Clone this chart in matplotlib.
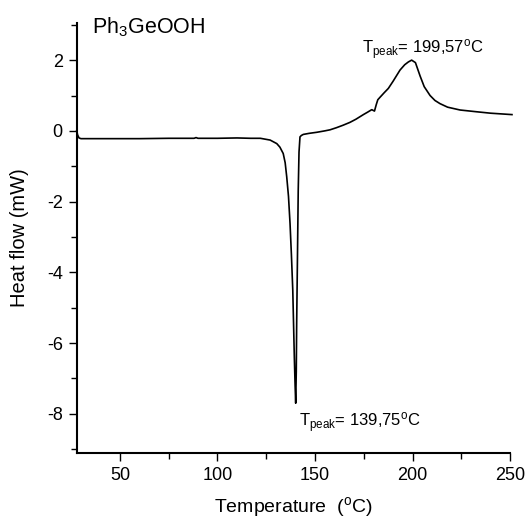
import matplotlib
matplotlib.use("Agg")
import matplotlib.pyplot as plt
from matplotlib.ticker import MultipleLocator

plt.rcParams['font.family'] = ['Liberation Sans', 'DejaVu Sans']
plt.rcParams['mathtext.fontset'] = 'custom'
plt.rcParams['mathtext.rm'] = 'Liberation Sans'
plt.rcParams['mathtext.it'] = 'Liberation Sans:italic'
plt.rcParams['mathtext.bf'] = 'Liberation Sans:bold'
plt.rcParams['axes.unicode_minus'] = False

# Data
temperature = [27.8, 28.3, 29, 30, 35, 45, 60, 75, 88, 89, 90, 100, 110, 117, 122, 127,
               130.4, 132, 133.7, 134.7, 135.5, 136.4, 137.2, 137.9, 138.6, 139.4, 139.8,
               140.1, 140.4, 140.6, 141, 141.4, 141.8, 142.3, 143, 144, 147, 150.9, 155,
               157.7, 161, 164.4, 167.9, 171, 174.8, 177, 179.1, 180.5, 181.4, 182.2, 183.5,
               185.5, 187.6, 190, 193.6, 196, 197.9, 199.57, 201.5, 203.9, 206, 209, 211.5,
               214.1, 218, 224.4, 232.9, 240, 251]
heat_flow = [0.0, -0.12, -0.2, -0.22, -0.22, -0.22, -0.22, -0.21, -0.21, -0.19, -0.21, -0.21,
             -0.2, -0.21, -0.21, -0.26, -0.36, -0.46, -0.64, -0.9, -1.3, -1.85, -2.62, -3.5,
             -4.5, -6.4, -7.2, -7.7, -6.8, -5.45, -3.6, -1.68, -0.6, -0.17, -0.13, -0.1, -0.07,
             -0.04, 0.0, 0.03, 0.09, 0.16, 0.24, 0.33, 0.46, 0.53, 0.6, 0.56, 0.74, 0.88,
             0.96, 1.08, 1.2, 1.4, 1.72, 1.87, 1.95, 2.0, 1.93, 1.55, 1.25, 1.0, 0.86, 0.77,
             0.67, 0.59, 0.54, 0.5, 0.46]

x_ticks = [50, 100, 150, 200, 250]
y_ticks = [-8, -6, -4, -2, 0, 2]

title_text = "Ph$_3$GeOOH"
peak_exo = "T$_{\\mathrm{peak}}$= 199,57$^{\\mathrm{o}}$C"
peak_endo = "T$_{\\mathrm{peak}}$= 139,75$^{\\mathrm{o}}$C"

fig = plt.figure(figsize=(5.30, 5.18), dpi=100)
ax = fig.add_axes([0.1447, 0.126, 0.9623 - 0.1447, 0.9556 - 0.126])

ax.plot(temperature, heat_flow, color='black', lw=1.2, clip_on=False)

ax.set_xlim(27.8, 250)
ax.set_ylim(-9.1, 3.05)
ax.set_xticks(x_ticks)
ax.set_yticks(y_ticks)
ax.xaxis.set_minor_locator(MultipleLocator(25))
ax.yaxis.set_minor_locator(MultipleLocator(1))

for s in ['top', 'right']:
    ax.spines[s].set_visible(False)
for s in ['left', 'bottom']:
    ax.spines[s].set_linewidth(1.5)

ax.tick_params(which='major', direction='out', length=6, width=1.0, labelsize=13, pad=4)
ax.tick_params(which='minor', direction='out', length=4, width=1.0)

ax.set_xlabel("Temperature  ($^{\\mathrm{o}}$C)", fontsize=14, labelpad=8)
ax.set_ylabel("Heat flow (mW)", fontsize=14.5, labelpad=13)

ax.text(35.6, 2.76, title_text, fontsize=15.5, ha='left', va='baseline')
ax.text(173.9, 2.19, peak_exo, fontsize=12, ha='left', va='baseline')
ax.text(141.8, -8.36, peak_endo, fontsize=12, ha='left', va='baseline')

fig.savefig("out.png", dpi=100)
